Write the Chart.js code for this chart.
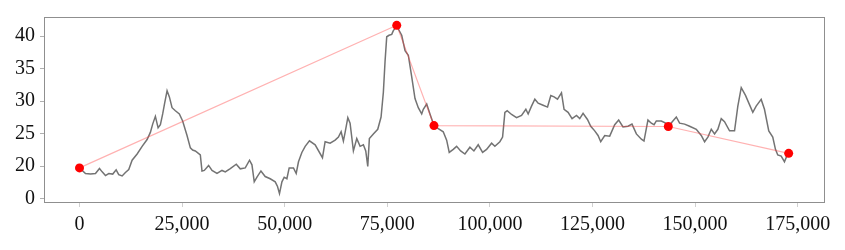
<!DOCTYPE html>
<html>
<head>
<meta charset="utf-8">
<script src="https://cdn.jsdelivr.net/npm/chart.js@4"></script>
<style>
  html, body { margin: 0; padding: 0; background: #ffffff; }
  #wrap { width: 845px; height: 250px; }
</style>
</head>
<body>
<div id="wrap"><canvas id="myChart" width="845" height="250"></canvas></div>
<script>
// grey series (index, value)
let seriesX = [
    0, 1460, 2680, 3890, 4870, 5520, 6330, 7130, 8100, 8930, 9560, 10390, 11190, 12000, 12820,
    14040, 15260, 16470, 17270, 17830, 18490, 19150, 19710, 20270, 20750, 21340, 21900, 22550,
    23360, 24330, 25130, 26200, 27010, 27570, 28220, 29440, 29850, 30410, 31460, 32290, 33500,
    34720, 35520, 36740, 38200, 39170, 40390, 41430, 42020, 42580, 43240, 44210, 45250, 46470,
    47690, 48250, 48730, 49320, 49880, 50530, 51090, 52140, 52800, 53360, 54180, 54990, 56030,
    57420, 59200, 59850, 61070, 62290, 63090, 63750, 64300, 64720, 65380, 65930, 66740, 67560,
    68370, 69170, 69750, 70240, 70630, 71600, 72670, 73480, 74040, 74450, 74860, 75420, 76080,
    76470, 77050, 77300, 77690, 78510, 79320, 80120, 80950, 81750, 82550, 83380, 83770, 84600,
    85400, 86370, 87420, 88630, 89460, 90090, 91070, 91890, 92870, 93910, 95130, 96100, 97150,
    98220, 99190, 100410, 101210, 102430, 103090, 103650, 104210, 105280, 106490, 107710, 108760,
    109320, 110140, 110950, 111750, 112960, 114040, 114840, 115640, 116470, 117440, 118070,
    119050, 120020, 121090, 121890, 122700, 123770, 124570, 125540, 126350, 127000, 127980,
    129190, 130410, 131380, 132430, 133650, 134620, 135690, 136910, 137540, 138510, 139340,
    140000, 140550, 141770, 142820, 143470, 144590, 145420, 146220, 147440, 148660, 150290,
    151500, 152310, 153110, 153940, 154740, 155540, 156370, 157170, 158390, 159610, 160410,
    161240, 162280, 163250, 164060, 164880, 166100, 166900, 167950, 168920, 169580, 170140,
    170970, 171770, 172330, 172800
];
let seriesY = [
    19.73, 18.87, 18.78, 18.87, 19.63, 19.12, 18.55, 18.87, 18.78, 19.44, 18.69, 18.49, 19.02, 19.49, 20.91,
    21.87, 23.05, 24.10, 25.19, 26.47, 27.66, 25.90, 26.38, 28.03, 29.70, 31.60, 30.66, 28.99,
    28.52, 28.03, 26.95, 24.72, 22.82, 22.48, 22.34, 21.72, 19.26, 19.34, 20.11, 19.34, 18.87,
    19.34, 19.12, 19.63, 20.30, 19.59, 19.73, 20.91, 20.20, 17.59, 18.30, 19.26, 18.40, 18.06,
    17.59, 16.88, 15.78, 17.59, 18.30, 18.06, 19.73, 19.73, 18.87, 20.68, 22.11, 23.05, 23.90,
    23.29, 21.30, 23.76, 23.53, 24.00, 24.47, 25.29, 23.86, 25.19, 27.46, 26.61, 22.34, 24.24,
    23.05, 23.29, 22.34, 19.97, 24.24, 24.96, 25.67, 27.56, 31.37, 36.11, 39.91, 40.14, 40.28,
    40.85, 41.30, 41.67, 41.10, 40.14, 37.78, 37.07, 33.73, 30.41, 28.99, 28.03, 28.75, 29.56,
    28.03, 26.24, 25.76, 25.29, 24.00, 22.11, 22.58, 23.05, 22.34, 21.87, 22.91, 22.34, 23.29,
    22.11, 22.58, 23.53, 23.05, 23.76, 24.47, 28.28, 28.52, 27.95, 27.46, 27.81, 28.75,
    28.03, 29.23, 30.31, 29.70, 29.37, 29.09, 30.88, 30.66, 30.31, 31.27, 28.75,
    28.28, 27.32, 27.81, 27.32, 28.13, 27.18, 26.14, 25.43, 24.72, 23.76, 24.72,
    24.62, 26.38, 27.09, 26.04, 26.14, 26.47, 24.96, 24.15, 23.86, 27.09, 26.61,
    26.38, 26.95, 26.95, 26.61, 26.10, 26.95, 27.56, 26.61, 26.47, 26.14, 25.67,
    24.72, 23.76, 24.47, 25.67, 24.96, 25.67, 27.32, 26.85, 25.43, 25.43, 29.23,
    32.08, 30.88, 29.46, 28.28, 29.23, 30.27, 28.75, 25.43, 24.47, 22.58, 21.72,
    21.54, 20.68, 21.54, 21.97
];

// simplified (red) points
let keyX = [0, 77300, 86370, 143470, 172800];
let keyY = [19.73, 41.67, 26.24, 26.10, 21.97];

// axis ticks
let xTickValues = [0, 25000, 50000, 75000, 100000, 125000, 150000, 175000];
let yTickValues = [15, 20, 25, 30, 35, 40];
let yTickLabels = ['0', '20', '25', '30', '35', '40'];

let greyData = [];
for (let i = 0; i < seriesX.length; i++) {
    greyData.push({ x: seriesX[i], y: seriesY[i] });
}
let redData = [];
for (let i = 0; i < keyX.length; i++) {
    redData.push({ x: keyX[i], y: keyY[i] });
}

let tickFont = { family: "'Liberation Serif', 'DejaVu Serif', serif", size: 20 };

// draws the grey frame round the plot area
let framePlugin = {
    id: 'frame',
    afterDraw(chart) {
        let a = chart.chartArea;
        let ctx = chart.ctx;
        ctx.save();
        ctx.strokeStyle = '#8f8f8f';
        ctx.lineWidth = 1;
        ctx.strokeRect(a.left + 0.5, a.top + 0.5, a.right - a.left - 1, a.bottom - a.top - 1);
        ctx.restore();
    }
};

let config = {
    type: 'scatter',
    data: {
        datasets: [
            {
                label: 'simplified',
                data: redData,
                showLine: true,
                borderColor: 'rgba(255, 60, 60, 0.4)',
                borderWidth: 1.2,
                backgroundColor: '#ff0000',
                pointRadius: 4.5,
                pointBorderWidth: 0,
                order: 0
            },
            {
                label: 'series',
                data: greyData,
                showLine: true,
                borderColor: '#737373',
                borderWidth: 1.5,
                pointRadius: 0,
                tension: 0,
                order: 1
            }
        ]
    },
    options: {
        responsive: false,
        animation: false,
        layout: { padding: { top: 2, right: 20, left: 0, bottom: 0 } },
        plugins: {
            legend: { display: false },
            tooltip: { enabled: false }
        },
        scales: {
            x: {
                type: 'linear',
                min: -8650,
                max: 181650,
                afterBuildTicks(scale) {
                    scale.ticks = xTickValues.map(v => ({ value: v }));
                },
                afterFit(scale) { scale.height = 47; },
                grid: { drawOnChartArea: false, drawTicks: true, tickLength: 4, color: '#d0d0d0' },
                border: { display: false },
                ticks: {
                    font: tickFont,
                    color: '#111',
                    padding: 6,
                    maxRotation: 0,
                    callback: (v) => v.toLocaleString('en-US')
                }
            },
            y: {
                type: 'linear',
                min: 14.33,
                max: 42.95,
                afterBuildTicks(scale) {
                    scale.ticks = yTickValues.map(v => ({ value: v }));
                },
                afterFit(scale) { scale.width = 44; },
                grid: { drawOnChartArea: false, drawTicks: true, tickLength: 4, color: '#b0b0b0' },
                border: { display: false },
                ticks: {
                    font: tickFont,
                    color: '#111',
                    padding: 5,
                    callback: (v) => {
                        let idx = yTickValues.indexOf(v);
                        return idx >= 0 ? yTickLabels[idx] : '';
                    }
                }
            }
        }
    },
    plugins: [framePlugin]
};

let myChart = new Chart(document.getElementById('myChart'), config);
</script>
</body>
</html>
